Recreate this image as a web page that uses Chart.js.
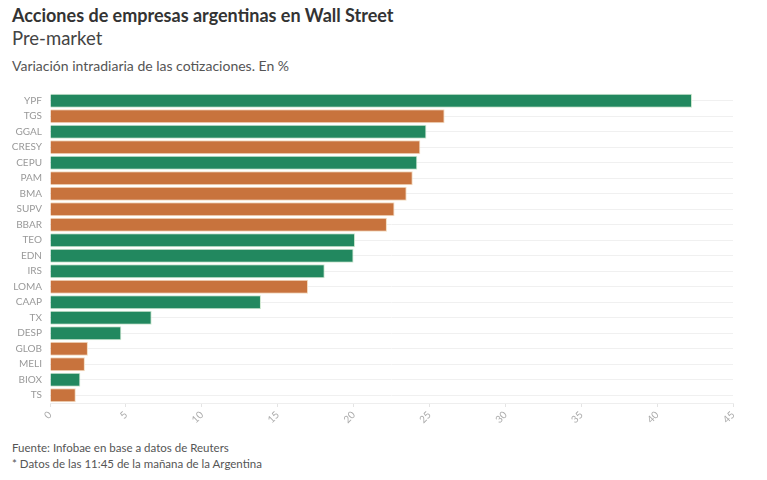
<!DOCTYPE html>
<html>
<head>
<meta charset="utf-8">
<script src="https://cdn.jsdelivr.net/npm/chart.js@4.4.0/dist/chart.umd.min.js"></script>
<style>
  body { margin: 0; background: #fff; font-family: Lato, sans-serif; }
  #wrap { position: relative; width: 767px; height: 480px; overflow: hidden; }
  .txt { position: absolute; left: 12px; white-space: nowrap; }
  #title { top: 4px; font-size: 18px; font-weight: bold; color: #333; }
  #sub { top: 27px; font-size: 18.5px; color: #444; }
  #desc { top: 57px; font-size: 14px; color: #555; }
  #src { top: 441px; font-size: 11.5px; color: #555; }
  #note { top: 457px; font-size: 11.5px; color: #555; }
  #box { position: absolute; left: 0; top: 79px; width: 767px; height: 361px; }
</style>
</head>
<body>
<div id="wrap">
  <div class="txt" id="title">Acciones de empresas argentinas en Wall Street</div>
  <div class="txt" id="sub">Pre-market</div>
  <div class="txt" id="desc">Variación intradiaria de las cotizaciones. En %</div>
  <div id="box"><canvas id="myChart"></canvas></div>
  <div class="txt" id="src">Fuente: Infobae en base a datos de Reuters</div>
  <div class="txt" id="note">* Datos de las 11:45 de la mañana de la Argentina</div>
</div>
<script>
  const tickers = ['YPF', 'TGS', 'GGAL', 'CRESY', 'CEPU', 'PAM', 'BMA', 'SUPV', 'BBAR', 'TEO',
                   'EDN', 'IRS', 'LOMA', 'CAAP', 'TX', 'DESP', 'GLOB', 'MELI', 'BIOX', 'TS'];
  const variacion = [42.3, 26.0, 24.8, 24.4, 24.2, 23.9, 23.5, 22.7, 22.2, 20.1,
                     20.0, 18.1, 17.0, 13.9, 6.7, 4.7, 2.5, 2.3, 2.0, 1.7];
  // grupo de color de cada barra
  const grupo = ['v', 'n', 'v', 'n', 'v', 'n', 'n', 'n', 'n', 'v',
                 'v', 'v', 'n', 'v', 'v', 'v', 'n', 'n', 'v', 'n'];
  const xTicks = [0, 5, 10, 15, 20, 25, 30, 35, 40, 45];

  const fill = { v: '#22885f', n: '#c8733d' };
  const edge = { v: '#cfe8d0', n: '#f3dcc0' };

  const ctx = document.getElementById('myChart');
  new Chart(ctx, {
    type: 'bar',
    data: {
      labels: tickers,
      datasets: [{
        data: variacion,
        backgroundColor: grupo.map(g => fill[g]),
        borderColor: grupo.map(g => edge[g]),
        borderWidth: 1,
        barPercentage: 0.9,
        categoryPercentage: 1
      }]
    },
    options: {
      indexAxis: 'y',
      responsive: true,
      maintainAspectRatio: false,
      animation: false,
      layout: { padding: { top: 0, bottom: 7, right: 34, left: 0 } },
      plugins: { legend: { display: false }, tooltip: { enabled: false } },
      scales: {
        x: {
          min: 0,
          max: 45,
          afterFit: function(scale) { scale.height = 30; },
          afterBuildTicks: function(scale) { scale.ticks = xTicks.map(v => ({ value: v })); },
          ticks: {
            minRotation: 45,
            maxRotation: 45,
            color: '#aaa',
            font: { family: 'Lato', size: 10 },
            padding: 2
          },
          grid: { drawOnChartArea: false, tickLength: 4, color: '#e4e4e4' },
          border: { color: '#eee' }
        },
        y: {
          afterFit: function(scale) { scale.width = 50; },
          ticks: {
            color: '#999',
            font: { family: 'Lato', size: 10 },
            padding: 8
          },
          grid: { offset: false, drawTicks: false, color: '#f0f0f0' },
          border: { display: false }
        }
      }
    }
  });
</script>
</body>
</html>
